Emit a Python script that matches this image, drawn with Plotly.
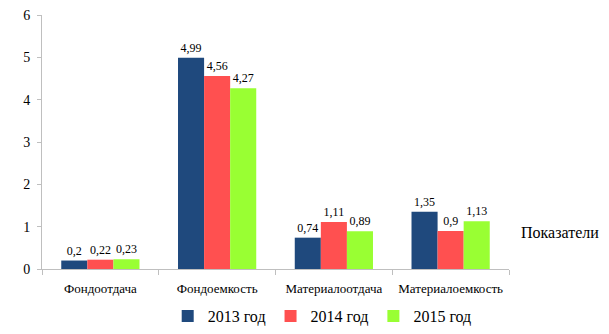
import plotly.graph_objects as go

categories = ["Фондоотдача", "Фондоемкость", "Материалоотдача", "Материалоемкость"]
series_names = ["2013 год", "2014 год", "2015 год"]
v2013 = [0.2, 4.99, 0.74, 1.35]
v2014 = [0.22, 4.56, 1.11, 0.9]
v2015 = [0.23, 4.27, 0.89, 1.13]
colors = ["#1F497D", "#FF5050", "#99FF33"]
y_ticks = [0, 1, 2, 3, 4, 5, 6]

FONT = "Liberation Serif"

def fmt(v):
    return str(v).replace(".", ",")

fig = go.Figure()
for name, vals, col in zip(series_names, [v2013, v2014, v2015], colors):
    fig.add_trace(go.Bar(
        x=categories, y=vals, name=name,
        marker=dict(color=col, line=dict(width=0)),
        text=[fmt(v) for v in vals], textposition="outside",
        textfont=dict(family=FONT, size=12, color="#000"),
        cliponaxis=False,
    ))

fig.update_layout(
    width=609, height=334,
    margin=dict(l=42, r=100, t=15, b=65, autoexpand=False),
    paper_bgcolor="white", plot_bgcolor="white",
    barmode="group", bargap=0.33, bargroupgap=0,
    font=dict(family=FONT, color="#000"),
    showlegend=True,
    legend=dict(orientation="h", x=0.6, xanchor="center", y=-0.185, yanchor="middle",
                font=dict(family=FONT, size=16), itemwidth=30, tracegroupgap=0),
    xaxis=dict(showline=True, linecolor="#BFBFBF", linewidth=1, tickson="boundaries",
               ticks="outside", ticklen=5, tickcolor="#BFBFBF", showgrid=False,
               ticklabelstandoff=7, automargin=False,
               tickfont=dict(family=FONT, size=13)),
    yaxis=dict(range=[0, 6], tickvals=y_ticks, showline=True, linecolor="#BFBFBF", linewidth=1,
               ticks="outside", ticklen=4, tickcolor="#BFBFBF", showgrid=False, zeroline=False,
               ticklabelstandoff=4, automargin=False,
               tickfont=dict(family=FONT, size=14)),
    annotations=[dict(text="Показатели", x=1.021, y=0.142, xref="paper", yref="paper",
                      xanchor="left", yanchor="middle", showarrow=False,
                      font=dict(family=FONT, size=16))],
)

fig.write_html("out.html")
